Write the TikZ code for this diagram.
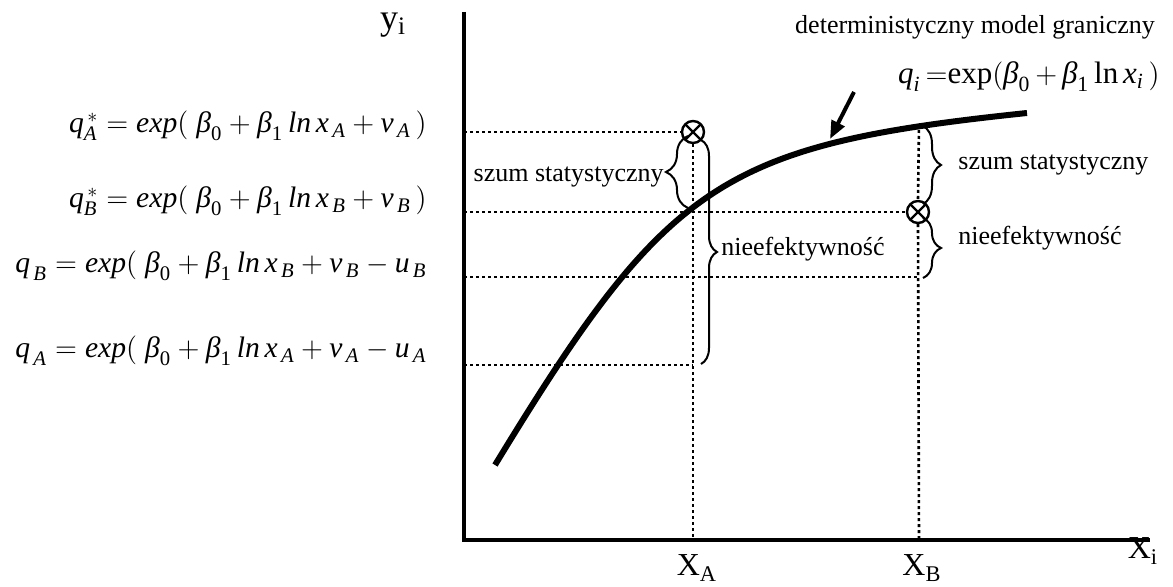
\documentclass[tikz,border=0pt]{standalone}
\usepackage{amsmath}
\usepackage{fontspec}
\setmainfont{Liberation Serif}
\usetikzlibrary{decorations.pathreplacing,arrows.meta}
\begin{document}
\begin{tikzpicture}[x=0.5pt,y=-0.5pt,
  axisline/.style={line width=2pt},
  curveline/.style={line width=3pt},
  guide/.style={line width=1.3pt, dash pattern=on 1.5pt off 1.5pt},
  bracestyle/.style={decorate, decoration={brace, amplitude=#1}, line width=1pt},
  lbl/.style={font=\fontsize{13}{15}\selectfont, inner sep=0pt},
  eq/.style={font=\fontsize{14.8}{17}\selectfont, inner sep=0pt, anchor=base east},
  axlbl/.style={font=\fontsize{16}{18}\selectfont, inner sep=0pt},
  omark/.style={circle, draw, line width=1.2pt, minimum size=11pt, inner sep=0pt,
    path picture={\draw[line width=1.2pt] (path picture bounding box.north west) -- (path picture bounding box.south east)
      (path picture bounding box.north east) -- (path picture bounding box.south west);}}
]
\useasboundingbox (0,0) rectangle (1173,587);

% axes
\coordinate (ytop) at (464,12);
\coordinate (origin) at (464,540);
\coordinate (xend) at (1150,540);
\draw[axisline] (ytop) -- (origin) -- (xend);

% axis labels
\node[font=\fontsize{18}{20}\selectfont, inner sep=0pt] (ylab) at (393,25) {y\textsubscript{i}};
\node[axlbl] (xa) at (697,568) {X\textsubscript{A}};
\node[axlbl] (xb) at (922,568) {X\textsubscript{B}};
\node[axlbl] (xi) at (1143,551) {X\textsubscript{i}};

% guide coordinates
\coordinate (yqsA) at (464,132);
\coordinate (yqsB) at (464,212);
\coordinate (yqB) at (464,277);
\coordinate (yqA) at (464,365);
\coordinate (xA) at (693,540);
\coordinate (xB) at (919,540);
\coordinate (curveB) at (919,124);
\coordinate (qBend) at (919,277);
\coordinate (qAend) at (693,365);

% observed points
\node[omark] (pA) at (693,132) {};
\node[omark] (pB) at (918,212) {};

% dotted guides
\draw[guide] (yqsA) -- (pA.west);
\draw[guide] (yqsB) -- (pB.west);
\draw[guide] (yqB) -- (qBend);
\draw[guide] (yqA) -- (qAend);
\draw[guide] (pA.south) -- (xA);
\draw[guide] (curveB) -- (pB.north);
\draw[guide] (pB.south) -- (xB);

% frontier curve
\coordinate (cS) at (495,465);
\coordinate (cE) at (1027,113);
\draw[curveline] (cS) .. controls (668,181) and (721,145) .. (cE);

% arrow to curve
\coordinate (arrS) at (854,92);
\coordinate (arrE) at (830,139);
\draw[line width=2pt, -{Triangle[length=9pt,width=7pt]}] (arrS) -- (arrE);

% top label and formula
\node[lbl] (det) at (975,27) {deterministyczny model graniczny};
\node[font=\fontsize{15.5}{18}\selectfont, inner sep=0pt, anchor=base east] (qi) at (1160,84)
  {$\textit{q}_{\textit{i}}\,{=}\textrm{exp}(\textit{β}_{\textrm{0}}\,{+}\,\textit{β}_{\textrm{1}}\,\textrm{ln}\,\textit{x}_{\textit{i}}\,)$};

% left equations
\node[eq] (e1) at (427,133) {$\textit{q}^{\,*}_{\textit{A}} = \textit{exp}(\;\textit{β}_{\textrm{0}} + \textit{β}_{\textrm{1}}\,\textit{ln}\,\textit{x}_{\,\textit{A}} + \textit{v}_{\,\textit{A}}\,)$};
\node[eq] (e2) at (427,208) {$\textit{q}^{\,*}_{\textit{B}} = \textit{exp}(\;\textit{β}_{\textrm{0}} + \textit{β}_{\textrm{1}}\,\textit{ln}\,\textit{x}_{\,\textit{B}} + \textit{v}_{\,\textit{B}}\,)$};
\node[eq] (e3) at (427,273) {$\textit{q}_{\,\textit{B}} = \textit{exp}(\;\textit{β}_{\textrm{0}} + \textit{β}_{\textrm{1}}\,\textit{ln}\,\textit{x}_{\,\textit{B}} + \textit{v}_{\,\textit{B}} - \textit{u}_{\,\textit{B}}$};
\node[eq] (e4) at (427,358) {$\textit{q}_{\,\textit{A}} = \textit{exp}(\;\textit{β}_{\textrm{0}} + \textit{β}_{\textrm{1}}\,\textit{ln}\,\textit{x}_{\,\textit{A}} + \textit{v}_{\,\textit{A}} - \textit{u}_{\,\textit{A}}$};

% braces
\coordinate (bA1t) at (688,136);
\coordinate (bA1b) at (688,208);
\draw[bracestyle=11pt] (bA1b) -- (bA1t);
\node[lbl, anchor=base east] (szA) at (664,182) {szum statystyczny};

\coordinate (bA2t) at (701,140);
\coordinate (bA2b) at (701,364);
\draw[bracestyle=8pt] (bA2t) -- (bA2b);
\node[lbl, anchor=base west] (niA) at (721,256) {nieefektywność};

\coordinate (bB1t) at (923,126);
\coordinate (bB1b) at (923,204);
\draw[bracestyle=9pt] (bB1t) -- (bB1b);
\node[lbl, anchor=base west] (szB) at (958,170) {szum statystyczny};

\coordinate (bB2t) at (923,218);
\coordinate (bB2b) at (923,278);
\draw[bracestyle=9pt] (bB2t) -- (bB2b);
\node[lbl, anchor=base west] (niB) at (958,245) {nieefektywność};
\end{tikzpicture}
\end{document}
